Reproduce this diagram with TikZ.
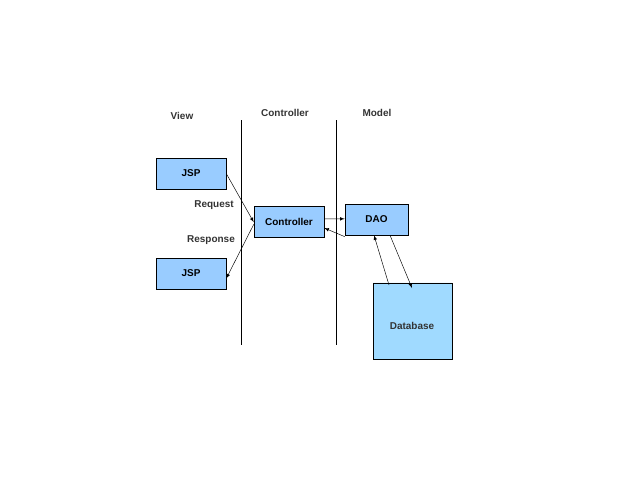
\documentclass[tikz,border=0pt]{standalone}
\usepackage{fontspec}
\setmainfont{Liberation Sans}
\usetikzlibrary{shapes.geometric}
\definecolor{boxblue}{HTML}{99CCFF}
\definecolor{dbblue}{HTML}{A0DAFF}
\tikzset{
  comp/.style={draw=black,fill=boxblue,minimum width=70*0.3mm,minimum height=31*0.3mm,inner sep=0pt,font=\bfseries\fontsize{8.5}{10}\selectfont},
  lbl/.style={font=\bfseries\fontsize{8.5}{10}\selectfont,text=black!80},
  link/.style={-latex,thin}
}
\begin{document}
\begin{tikzpicture}[x=0.3mm,y=-0.3mm]
  \useasboundingbox (0,0) rectangle (640,480);
  % columns
  \draw (241,120) -- (241,345);
  \draw (336,120) -- (336,345);
  \node[lbl] (hview) at (182,116) {View};
  \node[lbl] (hctrl) at (285,113) {Controller};
  \node[lbl] (hmodel) at (377,113) {Model};
  % boxes
  \node[comp] (jsp1) at (191,173.5) {JSP};
  \node[comp] (jsp2) at (191,273.5) {JSP};
  \node[comp] (ctrl) at (289,221.5) {Controller};
  \node[comp,minimum width=63*0.3mm] (dao) at (376.5,219.5) {DAO};
  \node[cylinder,shape border rotate=90,draw=black,fill=dbblue,minimum width=79*0.3mm,minimum height=76*0.3mm,aspect=0.3,inner sep=0pt,font=\bfseries\fontsize{8.5}{10}\selectfont] (db) at (412.5,321) {};
  \node[lbl] (dbtext) at (412,326) {Database};
  % connectors
  \coordinate (c1) at (ctrl.west);
  \draw[link] (jsp1.east) -- ([yshift=-0.6pt]ctrl.west);
  \draw[link] ([yshift=-2.4pt]ctrl.west) -- ([yshift=-1.5mm]jsp2.east);
  \node[lbl] (req) at (214,205) {Request};
  \node[lbl] (resp) at (211,240) {Response};
  \draw[link] ([yshift=0.8mm]ctrl.east) -- ([yshift=0.2mm]dao.west);
  \draw[link] ([yshift=-2.6mm]dao.west |- 0,228) -- ([yshift=0mm]ctrl.east |- 0,228);
  \draw[link] (389,285) -- (dao.south -| 374,0);
  \draw[link] (dao.south -| 390,0) -- (412,288);
\end{tikzpicture}
\end{document}
